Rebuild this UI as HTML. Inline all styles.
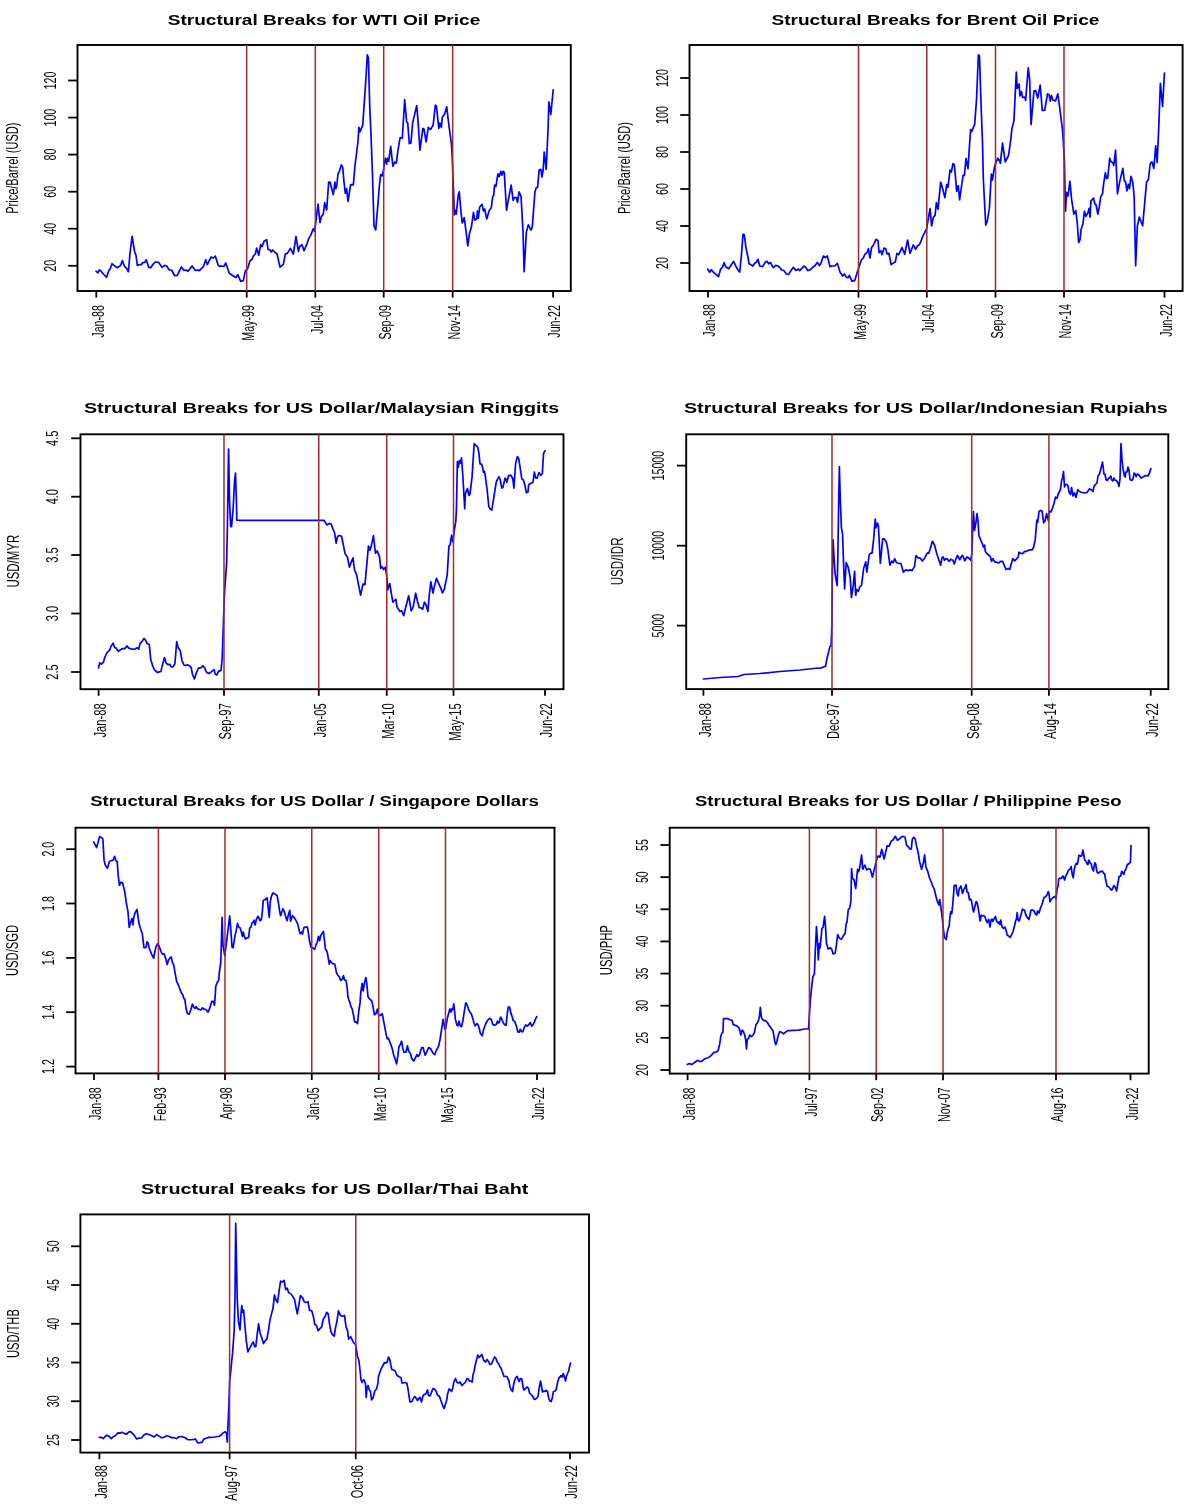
<!DOCTYPE html>
<html><head><meta charset="utf-8"><style>
html,body{margin:0;padding:0;background:#fff;}
svg{display:block;will-change:transform;}
text{font-family:"Liberation Sans",sans-serif;font-size:10.7px;fill:#000;}
text.t{font-weight:bold;font-size:14.1px;}
.fr{fill:none;stroke:#000;stroke-width:1.9;}
.k{stroke:#000;stroke-width:1.8;}
.r{stroke:#a52a2a;stroke-width:1.5;}
.d{fill:none;stroke:#0000ff;stroke-width:1.7;stroke-linejoin:round;stroke-linecap:round;}
</style></head><body>
<svg width="1200" height="1512" viewBox="0 0 1200 1512">
<text class="t" transform="translate(167.7,24.7) scale(1.3532,1)">Structural Breaks for WTI Oil Price</text>
<rect class="fr" x="77.5" y="45" width="493.3" height="246"/>
<polyline class="d" points="96,271.33 98,272.67 99.33,270 100.67,270.67 103.33,274 106.67,277.33 108.67,270.67 110,269.33 112,263.73 114,265.33 117.33,267.73 120.67,265.33 122.27,260.67 124.4,266 126.67,268.67 128.4,271.73 130,253.33 132.13,236.27 134.67,252 136,255.33 137.33,265.33 139.33,264.67 141.33,264.67 142.67,262.67 144.67,262.4 146.27,259.73 148.67,267.33 150.67,267.73 152.67,264.67 155.33,262 158.67,262.4 162,267.33 164.67,265.33 166.67,266 169.33,270 171.6,270 174.67,275.73 177.33,275.33 181.33,266.93 184,270.4 186,270 188,271.33 192,266 195.33,270.4 198,270 199.33,270.67 203.33,266.67 205.73,259.73 207.33,264.67 211.07,257.07 213.33,258 215.33,256 218,264.67 219.33,266.4 221.33,266 224,266.4 225.73,262.93 229.33,273.33 233.33,276 236,277.6 237.73,274.67 240.67,281.33 243.33,280.67 245.33,270.67 247.33,269.33 250,260.67 252,259.33 253.33,256 255.33,254 256.67,248 258.67,255.33 260.67,244.67 262,246.67 264,241.33 266.67,239.6 268,249.33 270,250 271.33,252 272.67,250 274.93,252.4 277.07,254 280,267.07 283.33,264.4 285.33,254 287.33,253.33 290.4,248.4 293.33,254 296,236.4 298.4,251.33 300,246 302,244.67 304,250.67 306.67,244.67 308.67,238.67 310.67,235.33 313.33,228.67 314.67,231.33 318,204 320,222.67 321.33,216.67 323.33,214 324.67,202.67 326.67,210 328.67,182 330,182 333.33,194.67 334.93,182 335.73,188.67 336.67,186.67 338,174 339.33,171.33 341.33,164.93 342.67,167.33 344,182 345.33,193.33 346.67,188.67 348,201.33 350.67,184.67 353.33,184.93 354.93,166 357.88,142.51 358.96,127.34 360.04,131.67 362.75,125.17 364.38,101.34 366,77.5 367.3,54.75 368.39,58 369.79,107.84 370.88,131.67 372.5,175.01 374,226 375.73,230 377.33,211.33 379.33,186 380.67,174.67 382,176 383.33,171.33 384.42,163.09 385.5,158.22 386.59,164.18 387.67,158.22 388.75,161.47 390.7,146.3 392.87,166.34 394.71,162.01 396.34,163.09 397.96,150.09 400.13,137.63 402.3,138.17 404.68,99.71 406.63,121.92 407.71,123.01 409.34,143.59 410.96,143.05 412.59,123.01 416.71,105.67 418.01,120.84 419.96,150.09 422.88,128.42 423.97,128.97 426.13,141.97 428.3,127.34 430.47,129.51 433.17,125.17 435.34,105.13 436.42,106.21 438.81,128.42 439.89,123.01 441.3,127.34 442.38,117.05 444.55,114.34 446.72,106.76 448.34,120.84 451.59,145.76 452.28,159.37 453.6,192.43 454.26,214.92 455.32,210.29 456.24,214.26 458.23,195.08 459.29,191.77 460.87,210.95 462.2,222.86 464.18,217.57 466.16,232.12 467.75,246.01 469.47,233.44 471.46,226.83 473.44,212.28 474.76,220.21 476.75,218.89 477.41,210.95 478.33,218.23 479.66,206.98 482.04,204.34 483.36,210.95 484.68,208.97 486.67,218.89 489.31,210.29 491.3,207.65 492.62,197.06 493.68,195.08 494.6,185.16 495.93,186.48 497.91,173.92 499.23,176.56 500.82,171.27 501.88,175.24 503.2,171.27 504.26,172.59 506.51,210.29 508.49,199.05 511.14,185.16 513.12,200.37 514.44,197.72 516.43,197.72 517.49,202.35 519.07,191.77 521.06,196.4 523.04,232.12 524.1,271.8 526.35,232.12 528.33,224.84 530.98,230.13 532.3,226.83 534.95,191.77 536.27,187.8 537.59,187.14 539.18,169.95 540.9,169.29 541.96,177.22 543.15,169.95 544.21,152.09 546.19,169.29 548.17,126.3 548.84,101.83 550.82,114.39 553.2,89.92"/>
<line class="r" x1="246.7" y1="45" x2="246.7" y2="291"/>
<line class="r" x1="315.3" y1="45" x2="315.3" y2="291"/>
<line class="r" x1="383.7" y1="45" x2="383.7" y2="291"/>
<line class="r" x1="452.7" y1="45" x2="452.7" y2="291"/>
<line class="k" x1="68.2" y1="265.8" x2="77.5" y2="265.8"/>
<text transform="translate(55.7,265.8) scale(1.58,1) rotate(-90)" text-anchor="middle">20</text>
<line class="k" x1="68.2" y1="228.7" x2="77.5" y2="228.7"/>
<text transform="translate(55.7,228.7) scale(1.58,1) rotate(-90)" text-anchor="middle">40</text>
<line class="k" x1="68.2" y1="191.7" x2="77.5" y2="191.7"/>
<text transform="translate(55.7,191.7) scale(1.58,1) rotate(-90)" text-anchor="middle">60</text>
<line class="k" x1="68.2" y1="154.6" x2="77.5" y2="154.6"/>
<text transform="translate(55.7,154.6) scale(1.58,1) rotate(-90)" text-anchor="middle">80</text>
<line class="k" x1="68.2" y1="117.6" x2="77.5" y2="117.6"/>
<text transform="translate(55.7,117.6) scale(1.58,1) rotate(-90)" text-anchor="middle">100</text>
<line class="k" x1="68.2" y1="80.5" x2="77.5" y2="80.5"/>
<text transform="translate(55.7,80.5) scale(1.58,1) rotate(-90)" text-anchor="middle">120</text>
<line class="k" x1="96.3" y1="291" x2="96.3" y2="297.6"/>
<text transform="translate(103.5,305) scale(1.58,1) rotate(-90)" text-anchor="end">Jan-88</text>
<line class="k" x1="246.7" y1="291" x2="246.7" y2="297.6"/>
<text transform="translate(253.9,305) scale(1.58,1) rotate(-90)" text-anchor="end">May-99</text>
<line class="k" x1="315.3" y1="291" x2="315.3" y2="297.6"/>
<text transform="translate(322.5,305) scale(1.58,1) rotate(-90)" text-anchor="end">Jul-04</text>
<line class="k" x1="383.7" y1="291" x2="383.7" y2="297.6"/>
<text transform="translate(390.9,305) scale(1.58,1) rotate(-90)" text-anchor="end">Sep-09</text>
<line class="k" x1="452.7" y1="291" x2="452.7" y2="297.6"/>
<text transform="translate(459.9,305) scale(1.58,1) rotate(-90)" text-anchor="end">Nov-14</text>
<line class="k" x1="553.1" y1="291" x2="553.1" y2="297.6"/>
<text transform="translate(560.3,305) scale(1.58,1) rotate(-90)" text-anchor="end">Jun-22</text>
<text transform="translate(18.1,168.2) scale(1.58,1.03) rotate(-90)" text-anchor="middle">Price/Barrel (USD)</text>
<text class="t" transform="translate(771.4,24.7) scale(1.3559,1)">Structural Breaks for Brent Oil Price</text>
<rect class="fr" x="689.5" y="45" width="493.1" height="246"/>
<polyline class="d" points="707.73,269.07 709.6,272.27 711.33,269.6 713.33,272.27 716,274.4 718.4,276.67 720.67,269.07 722.4,267.33 724,262.67 725.6,266.67 728.67,268.67 731.33,264.67 733.6,261.33 735.73,266 738,270 739.73,272 741.6,253.33 742.93,234.4 744.27,234.67 746,248 747.73,256 749.07,263.73 750.93,264.67 752.8,266 754.67,263.33 756.67,262 758,259.33 759.73,266 762.67,266.67 765.33,262 766.93,261.33 768.67,263.73 770.4,262.4 773.33,267.73 775.73,265.33 778,266 780,267.73 781.6,270 783.73,270.4 786.4,274 788.67,274.4 791.33,270 793.33,267.33 796,270.4 798.4,269.07 799.73,270.67 801.6,268.67 804,266 806,267.73 807.73,270.67 810.4,269.6 812.67,267.33 814.67,266 817.33,262.4 819.33,265.6 821.07,262.93 823.33,256 825.33,257.6 827.33,256 830,266.67 832,266 834.67,266 837.33,263.33 840,272 842.67,276 844.27,274 846.4,277.33 848.27,277.6 849.33,275.33 852,281.07 854.67,280.67 857.07,272.67 859.33,266 861.33,260 863.33,258 864.67,254.67 867.33,252 868.4,248.67 870,258 871.6,247.33 873.33,245.33 876,239.33 878,240.67 879.07,252.67 880.67,250.67 882,254.67 884,248 885.73,248.67 887.07,254 888.93,253.33 891.07,264.67 894,262.67 895.33,262 896.93,253.33 898.67,254.67 902,247.6 904.67,254.27 907.6,240 910,253.33 913.33,244.93 915.6,249.33 917.33,246 919.33,244.67 920.67,242 922.67,236.67 924.67,232.67 926.67,228.67 928.67,216.67 930,208.67 931.6,226 933.33,217.33 935.07,215.33 936.4,202.67 938,209.33 940.67,182 942.67,188.67 944.93,197.73 946.67,184.67 948,187.33 950,170 951.33,172 952.93,163.6 954.27,164.93 955.33,175.33 956.67,191.33 958.27,185.73 959.6,200 963.07,175.33 964.4,175.33 966,158.67 968,168.67 968.96,153.34 970.59,129.51 971.67,131.67 974.7,124.09 976.54,99.17 978.39,54.75 979.47,55.83 980.88,99.17 982.5,142.51 983.33,179.33 984.67,204.67 985.73,225.33 987.33,220.67 989.33,208.67 991.33,174 992.4,180 994.67,166 995.5,164.18 997.67,158.22 999.3,160.38 1000.38,163.09 1002.55,143.05 1005.25,161.79 1008.5,155.51 1010.67,140.34 1011.97,128.42 1013.92,120.84 1016.31,72.09 1017.17,88.34 1019.12,84 1019.88,95.92 1021.51,91.59 1022.59,97.55 1024.76,97 1025.62,100.47 1028.22,67.75 1029.63,79.67 1031.04,124.63 1033.97,91.05 1035.59,90.5 1037.76,98.09 1040.14,85.09 1042.31,110.55 1044.8,110.01 1047.51,93.75 1049.13,94.84 1050.22,101.12 1051.3,95.38 1052.93,100.25 1055.63,100.8 1057.8,93.75 1059.43,105.67 1062.68,131.67 1064.36,158.91 1065.53,211.27 1066.55,192.36 1068,196 1069.89,181.45 1071.64,199.64 1073.82,214.18 1075.71,210.55 1077.16,221.45 1078.62,242.55 1080.07,239.64 1081.09,229.45 1082.98,223.64 1084.44,211.27 1085.89,216.36 1087.93,212.73 1089.09,208.36 1090.11,217.09 1090.84,201.09 1093.45,198.18 1094.91,204 1096.07,204.73 1097.82,214.18 1099.27,206.91 1100.73,196.73 1102.47,193.82 1103.64,183.64 1105.38,172.73 1106.55,178.55 1107.71,178.11 1109.75,158.18 1110.91,161.82 1112.65,162.55 1113.82,165.45 1115.56,150.18 1117.45,193.82 1119.64,182.18 1122.84,168.36 1124.29,180.73 1125.45,181.45 1126.91,190.91 1128.36,184.36 1129.53,188.73 1130.98,176.36 1132.73,182.18 1134.18,196.73 1135.64,265.82 1137.38,225.82 1139.27,217.09 1142.62,225.82 1144.36,206.91 1146.55,182.18 1148.44,179.27 1150.18,164 1151.93,161.82 1153.82,168.36 1155.71,145.82 1157.16,162.55 1158.91,124 1160.36,83.27 1162.55,106.55 1164.44,73.09"/>
<line class="r" x1="858.5" y1="45" x2="858.5" y2="291"/>
<line class="r" x1="926.8" y1="45" x2="926.8" y2="291"/>
<line class="r" x1="995.5" y1="45" x2="995.5" y2="291"/>
<line class="r" x1="1064" y1="45" x2="1064" y2="291"/>
<line class="k" x1="680.2" y1="263" x2="689.5" y2="263"/>
<text transform="translate(667.7,263) scale(1.58,1) rotate(-90)" text-anchor="middle">20</text>
<line class="k" x1="680.2" y1="226" x2="689.5" y2="226"/>
<text transform="translate(667.7,226) scale(1.58,1) rotate(-90)" text-anchor="middle">40</text>
<line class="k" x1="680.2" y1="189" x2="689.5" y2="189"/>
<text transform="translate(667.7,189) scale(1.58,1) rotate(-90)" text-anchor="middle">60</text>
<line class="k" x1="680.2" y1="152" x2="689.5" y2="152"/>
<text transform="translate(667.7,152) scale(1.58,1) rotate(-90)" text-anchor="middle">80</text>
<line class="k" x1="680.2" y1="115" x2="689.5" y2="115"/>
<text transform="translate(667.7,115) scale(1.58,1) rotate(-90)" text-anchor="middle">100</text>
<line class="k" x1="680.2" y1="78" x2="689.5" y2="78"/>
<text transform="translate(667.7,78) scale(1.58,1) rotate(-90)" text-anchor="middle">120</text>
<line class="k" x1="708" y1="291" x2="708" y2="297.6"/>
<text transform="translate(715.2,304) scale(1.58,1) rotate(-90)" text-anchor="end">Jan-88</text>
<line class="k" x1="858.5" y1="291" x2="858.5" y2="297.6"/>
<text transform="translate(865.7,304) scale(1.58,1) rotate(-90)" text-anchor="end">May-99</text>
<line class="k" x1="926.8" y1="291" x2="926.8" y2="297.6"/>
<text transform="translate(934,304) scale(1.58,1) rotate(-90)" text-anchor="end">Jul-04</text>
<line class="k" x1="995.5" y1="291" x2="995.5" y2="297.6"/>
<text transform="translate(1002.7,304) scale(1.58,1) rotate(-90)" text-anchor="end">Sep-09</text>
<line class="k" x1="1064" y1="291" x2="1064" y2="297.6"/>
<text transform="translate(1071.2,304) scale(1.58,1) rotate(-90)" text-anchor="end">Nov-14</text>
<line class="k" x1="1164.5" y1="291" x2="1164.5" y2="297.6"/>
<text transform="translate(1171.7,304) scale(1.58,1) rotate(-90)" text-anchor="end">Jun-22</text>
<text transform="translate(630,168) scale(1.58,1.04) rotate(-90)" text-anchor="middle">Price/Barrel (USD)</text>
<text class="t" transform="translate(83.9,412.5) scale(1.4015,1)">Structural Breaks for US Dollar/Malaysian Ringgits</text>
<rect class="fr" x="80.5" y="434.3" width="483" height="254.9"/>
<polyline class="d" points="98.5,667.84 99.67,662.94 101.42,664.1 103.4,662.24 104.92,657.1 106.67,653.25 108.07,651.5 109.58,650.1 111.1,646.25 113.08,643.1 114.6,647.42 116,648 118.33,651.27 120.08,650.1 122.42,648.58 124.75,648.58 127.08,645.9 128.84,648.23 131.17,648.93 134.67,649.4 137,647.77 138.75,649.17 139.92,643.92 141.9,641.58 144,638.43 145.4,639.83 146.92,643.33 149.25,644.5 150.77,659.67 152.75,666.09 154.5,669.94 157.42,672.5 160.92,671.34 162.44,664.92 164.42,657.57 166.17,663.17 167.92,664.57 169.67,664.34 171.42,666.9 173.17,666.67 174.92,663.75 176.67,641.58 178.07,647.42 180.17,650.57 181.92,660.25 183.9,664.92 185.42,665.5 187.75,664.92 189.74,666.09 191.25,667.6 192.42,674.25 194.4,678.92 196.51,672.5 198.26,668.42 201.17,667.6 202.92,665.74 204.67,667.84 206.42,672.27 208.76,673.44 211.09,671.92 214.01,669.59 215.41,674.25 216.92,674.84 218.44,671.34 221.01,670.4 222.17,658.5 223.6,616.82 224.59,592.02 225.74,575.5 226.57,563.93 227.4,527.56 228.55,449.05 229.55,501.12 230.7,526.74 231.53,526.74 233.18,507.73 234.5,481.28 235.5,473.02 236.49,504.42 236.82,520.12 238.97,520.45 324.09,520.45 327,524.93 329.33,523.42 331.08,524 332.83,528.67 334.58,532.75 336.1,543.25 337.5,536.6 339.25,535.43 341.58,536.25 343.33,545 345.08,553.75 347.42,557.25 349.4,567.17 350.57,563.67 353.02,557.84 354.42,569.5 356.75,575.34 358.5,584.67 360.6,595.17 362.94,584.09 364.92,584.67 366.67,566 368.42,546.17 369.94,550.25 371.34,545.59 373.44,535.67 375.42,553.17 377.17,550.84 379.5,556.67 380.67,568.34 381.84,566.59 383.59,569.5 385.34,567.17 385.92,570.67 387.09,578.84 387.67,589.92 389.77,583.5 391.4,594 392.92,602.17 395.84,599.25 397,606.84 399.92,611.51 401.67,610.92 403.77,615.59 406.1,605.67 408.67,595.75 411.24,610.92 413.1,607.42 415.67,593.07 417.42,601 419.17,607.42 420.92,608 422.67,609.17 424.42,602.17 426.17,605.09 427.92,611.51 429.09,596.92 430.84,581.75 432.94,593.07 434.11,587.59 436.44,578.25 438.42,582.92 440.76,588.17 442.51,592.84 444.26,589.34 447.17,575.34 448.92,546.17 450.09,545 451.61,535.08 453.01,542.08 454.17,531.24 455.82,521.16 456.46,508.33 457.37,461.58 458.29,467.08 459.21,460.66 460.12,463.41 461.5,457.91 462.87,476.25 464.71,508.79 465.35,493.66 467.46,488.62 469.01,495.49 469.93,494.12 472.04,477.16 474.15,443.71 476.16,445.54 477.81,447.37 478.91,453.33 480.01,463.87 481.66,464.15 482.76,468 483.31,472.12 484.41,471.21 485.33,476.25 487.16,490 488.81,506.49 489.91,508.79 491.75,510.16 493.58,499.16 494.95,490 496.33,481.75 498.9,476.7 500,479 501.83,488.16 502.93,487.25 505.04,478.08 505.95,478.81 506.87,482.2 508.7,475.33 510.99,475.33 512.83,479 513.93,488.16 515.58,463.41 517.41,456.54 518.79,458.83 519.98,466.62 521.81,479 523.37,479.91 524.74,484.5 526.39,492.75 527.95,492.29 528.59,484.95 530.7,483.58 532.99,482.2 534.37,472.12 535.74,478.08 537.12,478.08 538.95,472.58 540.78,475.33 542.34,473.5 543.53,453.33 545.09,450.77"/>
<line class="r" x1="224" y1="434.3" x2="224" y2="689.2"/>
<line class="r" x1="318.75" y1="434.3" x2="318.75" y2="689.2"/>
<line class="r" x1="386.75" y1="434.3" x2="386.75" y2="689.2"/>
<line class="r" x1="453.5" y1="434.3" x2="453.5" y2="689.2"/>
<line class="k" x1="71.2" y1="672" x2="80.5" y2="672"/>
<text transform="translate(57.9,672) scale(1.58,1.03) rotate(-90)" text-anchor="middle">2.5</text>
<line class="k" x1="71.2" y1="613.5" x2="80.5" y2="613.5"/>
<text transform="translate(57.9,613.5) scale(1.58,1.03) rotate(-90)" text-anchor="middle">3.0</text>
<line class="k" x1="71.2" y1="555" x2="80.5" y2="555"/>
<text transform="translate(57.9,555) scale(1.58,1.03) rotate(-90)" text-anchor="middle">3.5</text>
<line class="k" x1="71.2" y1="496.7" x2="80.5" y2="496.7"/>
<text transform="translate(57.9,496.7) scale(1.58,1.03) rotate(-90)" text-anchor="middle">4.0</text>
<line class="k" x1="71.2" y1="438.3" x2="80.5" y2="438.3"/>
<text transform="translate(57.9,438.3) scale(1.58,1.03) rotate(-90)" text-anchor="middle">4.5</text>
<line class="k" x1="98.6" y1="689.2" x2="98.6" y2="695.8"/>
<text transform="translate(105.8,703.2) scale(1.58,1.05) rotate(-90)" text-anchor="end">Jan-88</text>
<line class="k" x1="224" y1="689.2" x2="224" y2="695.8"/>
<text transform="translate(231.2,703.2) scale(1.58,1.05) rotate(-90)" text-anchor="end">Sep-97</text>
<line class="k" x1="318.75" y1="689.2" x2="318.75" y2="695.8"/>
<text transform="translate(325.95,703.2) scale(1.58,1.05) rotate(-90)" text-anchor="end">Jan-05</text>
<line class="k" x1="386.75" y1="689.2" x2="386.75" y2="695.8"/>
<text transform="translate(393.95,703.2) scale(1.58,1.05) rotate(-90)" text-anchor="end">Mar-10</text>
<line class="k" x1="453.5" y1="689.2" x2="453.5" y2="695.8"/>
<text transform="translate(460.7,703.2) scale(1.58,1.05) rotate(-90)" text-anchor="end">May-15</text>
<line class="k" x1="545" y1="689.2" x2="545" y2="695.8"/>
<text transform="translate(552.2,703.2) scale(1.58,1.05) rotate(-90)" text-anchor="end">Jun-22</text>
<text transform="translate(18.7,561.2) scale(1.58,1.07) rotate(-90)" text-anchor="middle">USD/MYR</text>
<text class="t" transform="translate(683.9,412.5) scale(1.4010,1)">Structural Breaks for US Dollar/Indonesian Rupiahs</text>
<rect class="fr" x="686.2" y="434.3" width="482.1" height="254.8"/>
<polyline class="d" points="703.4,679 720,677.5 738,676.5 744,674.5 760,673.5 780,671.5 800,670 818,668 820,668.25 823.17,667.14 825.56,666.19 827.14,657.94 828.73,651.59 829.84,646.83 831.11,645.24 831.9,624.6 832.38,576.98 833.02,539.68 834.29,561.11 835.08,573.81 837.14,585.71 837.78,561.11 838.73,497.62 839.37,466.67 840.32,500.79 841.43,527.78 842.54,534.13 843.49,561.11 844.6,588.89 846.19,562.7 848.25,567.46 850.16,576.98 851.43,597.62 853.33,584.92 854.6,571.43 855.71,595.24 856.83,589.68 858.41,591.27 859.68,587.3 861.59,584.92 863.65,568.25 865.71,561.9 866.83,572.22 869.21,554.76 870.79,553.17 872.06,553.17 873.65,538.89 875.24,519.05 875.87,527.78 877.46,523.02 878.41,526.19 880.32,563.49 882.7,538.89 884.29,538.89 886.35,542.06 887.94,550 889.84,565.08 891.75,561.11 893.33,562.7 894.6,558.73 896.51,562.7 899.37,563.49 900.95,563.49 903.33,572.22 905.71,569.84 908.1,570.63 910.16,569.84 912.06,570.63 914.44,566.67 916.03,555.56 918.1,557.94 920,557.94 922.38,561.11 924.76,557.94 927.14,553.17 928.73,553.17 930.32,548.41 932.38,541.27 934.6,545.24 936.67,553.17 940.63,565.14 942.04,557.55 943.13,557.01 944.53,560.26 945.83,558.63 947.46,559.18 949.3,561.34 950.71,559.18 952.88,560.26 954.28,564.05 955.8,559.18 957.54,555.38 959.7,559.72 962.09,555.38 963.17,556.47 964.79,560.8 966.96,557.01 968.8,558.09 970.75,560.26 971.84,553.76 972.92,522.34 973.46,511.51 974.54,530.47 975.95,522.34 977.04,513.67 978.12,522.34 978.88,535.34 980.5,539.67 982.45,544.01 983.54,547.26 984.62,545.09 985.38,551.59 987,553.76 990.25,556.47 991.55,561.34 992.96,558.63 994.59,561.89 996.76,562.43 998.92,562.97 1000.55,561.34 1002.71,561.34 1004.34,565.68 1005.96,569.47 1008.13,568.39 1009.76,569.47 1011.38,563.51 1012.79,558.63 1014.63,560.8 1016.8,558.63 1018.21,557.01 1018.97,552.13 1020.59,553.22 1022.54,553.76 1024.38,551.59 1027.09,551.05 1029.04,549.97 1031.97,549.97 1033.59,547.26 1035.22,539.67 1036.3,526.67 1036.84,520.17 1037.71,522.34 1039.01,511.51 1040.63,510.42 1042.04,510.96 1043.67,522.88 1044.97,520.72 1046.59,513.67 1048.22,520.17 1049.5,511 1051,512 1052.5,508 1054,503.5 1055.5,497 1057,498.5 1058,494.5 1059.5,491.5 1060.5,489.5 1061.5,481 1062.5,478 1063.5,471.5 1064.5,487 1065.5,484.5 1067,484.5 1068,486 1069,492 1070.5,494.5 1071.5,487.5 1073,496 1074.5,493 1076,497.5 1077.8,489.5 1079.5,491.5 1082,492.5 1084.5,493 1087,492.5 1089.5,488.8 1091.5,490 1093,491.5 1094,486.5 1095.5,484.5 1097,483 1098,476 1099.5,474 1101,468 1102.5,462 1104,474 1105,474.5 1106,479.5 1107.2,480.5 1108.5,478.5 1110,477.5 1110.8,476 1111.8,480 1112.8,481 1114,478 1115.2,480.5 1116.5,480.5 1117.8,482.5 1119,486.5 1120,479 1120.5,460 1121,443.5 1122,460 1123.2,470 1124.5,476 1125.2,477 1125.8,472 1127,472 1128,467 1129,470 1130,479.5 1131.8,480.5 1133,479 1134.2,473 1135.5,474.5 1136.2,476.5 1137.5,474 1139,475 1141.2,478 1143,477 1145.5,475.5 1148,476 1149.5,473 1150.8,468.5"/>
<line class="r" x1="832" y1="434.3" x2="832" y2="689.1"/>
<line class="r" x1="971.7" y1="434.3" x2="971.7" y2="689.1"/>
<line class="r" x1="1048.9" y1="434.3" x2="1048.9" y2="689.1"/>
<line class="k" x1="676.9" y1="625.6" x2="686.2" y2="625.6"/>
<text transform="translate(664.4,625.6) scale(1.58,1) rotate(-90)" text-anchor="middle">5000</text>
<line class="k" x1="676.9" y1="545.7" x2="686.2" y2="545.7"/>
<text transform="translate(664.4,545.7) scale(1.58,1) rotate(-90)" text-anchor="middle">10000</text>
<line class="k" x1="676.9" y1="465.6" x2="686.2" y2="465.6"/>
<text transform="translate(664.4,465.6) scale(1.58,1) rotate(-90)" text-anchor="middle">15000</text>
<line class="k" x1="703.4" y1="689.1" x2="703.4" y2="695.7"/>
<text transform="translate(710.6,703.1) scale(1.58,1.04) rotate(-90)" text-anchor="end">Jan-88</text>
<line class="k" x1="832" y1="689.1" x2="832" y2="695.7"/>
<text transform="translate(839.2,703.1) scale(1.58,1.04) rotate(-90)" text-anchor="end">Dec-97</text>
<line class="k" x1="971.7" y1="689.1" x2="971.7" y2="695.7"/>
<text transform="translate(978.9,703.1) scale(1.58,1.04) rotate(-90)" text-anchor="end">Sep-08</text>
<line class="k" x1="1048.9" y1="689.1" x2="1048.9" y2="695.7"/>
<text transform="translate(1056.1,703.1) scale(1.58,1.04) rotate(-90)" text-anchor="end">Aug-14</text>
<line class="k" x1="1150.7" y1="689.1" x2="1150.7" y2="695.7"/>
<text transform="translate(1157.9,703.1) scale(1.58,1.04) rotate(-90)" text-anchor="end">Jun-22</text>
<text transform="translate(623.3,561.4) scale(1.58,1.09) rotate(-90)" text-anchor="middle">USD/IDR</text>
<text class="t" transform="translate(90.2,805.8) scale(1.3195,1)">Structural Breaks for US Dollar / Singapore Dollars</text>
<rect class="fr" x="75.5" y="827.7" width="479" height="245.7"/>
<polyline class="d" points="93.66,841.94 96.55,847.6 98.06,842.57 99.57,836.54 101.83,837.79 102.83,838.8 104.09,860.17 105.35,865.2 107.48,868.34 109.37,861.43 110.63,860.8 113.14,860.17 114.65,856.4 115.91,860.8 117.16,861.43 118.17,875.25 119.43,885.31 120.94,882.17 122.57,882.8 124.71,891.6 126.34,902.91 127.97,911.71 129.23,927.42 130.74,921.77 132,918.62 133,924.91 133.51,918.62 134.76,913.6 136.4,910.45 137.03,909.45 138.91,923.02 140.55,928.68 142.31,933.71 143.94,947.54 145.83,947.54 147.08,941.88 148.09,943.14 149.35,948.79 151.48,953.82 153.62,958.22 155.63,948.16 157.39,943.76 159.02,945.65 160.91,951.31 162.17,953.82 164.05,953.82 165.94,959.48 167.2,964.51 168.45,960.11 170.34,957.59 171.22,956.96 172.48,962.62 173.73,965.14 175.37,974.56 176.62,981.48 178.51,985.25 181.02,992.16 182.91,995.3 183.79,998.45 184.79,999.08 186.05,1008.5 187.31,1013.53 189.19,1014.16 190.83,1009.76 192.34,1004.1 194.22,1007.88 195,1008.39 196.3,1006.76 197.71,1008.93 200.96,1010.01 202.58,1007.84 204.21,1009.47 205.83,1009.47 208,1012.18 209.63,1008.39 211.79,1001.34 213.2,1001.34 214.5,1005.14 215.8,986.18 217.21,982.38 218.62,980.76 219.38,972.09 220.79,962.34 221.22,947.17 222.09,917.38 222.95,945.01 224.79,955.84 226.42,942.84 228.04,929.84 229.67,915.75 230.97,932 232.05,947.17 233.14,947.71 234.87,936.34 236.17,930.92 237.47,923.34 238.34,926.59 239.96,927.67 241.05,930.92 242.45,936.34 243.21,932 244.3,936.34 245.38,939.05 247,937.96 248.63,937.42 249.71,928.21 251.12,926.59 251.88,923.34 253.5,921.71 254.05,920.09 255.13,924.96 256.21,920.09 257.84,916.29 258.92,917.92 260.01,920.63 261.31,919.54 262.17,913.59 263.26,900.59 265.21,899.5 267.05,897.88 268.13,907.09 269.21,917.38 270.3,901.67 271.38,896.25 273.01,893 275.17,894.08 277.12,895.71 278.42,902.75 279.51,910.34 280.59,915.75 281.67,912.5 282.76,908.71 284.06,910.88 285.47,915.75 287.09,920.63 288.39,914.67 289.8,910.34 290.56,921.17 292.51,915.75 294.13,917.38 295.98,920.63 297.71,923.88 299.01,929.84 300.09,933.63 301.72,932 302.48,934.17 303.88,927.67 305.51,927.13 307.46,927.13 308.54,934.17 309.63,941.76 310.93,947.17 312.55,947.71 314.72,949.34 316.13,944.46 317.21,942.3 318.51,936.34 319.59,940.67 320.89,935.25 323.43,931.5 324.25,938.5 325.42,949 327.17,951.92 328.33,958.34 329.27,964.17 330.08,960.67 332.42,963.59 334.75,964.17 336.5,972.92 337.9,975.25 339.42,977 340.59,980.5 342.1,979.34 343.5,975.6 344.44,979.92 346.07,980.5 347.24,988.67 347.94,996.84 348.75,999.75 349.92,1002.67 350.74,1006.17 352.25,1009.09 353.77,1016.67 354.59,1021.92 356.34,1021.92 357.5,1023.67 358.67,1012.01 360.07,1002.67 360.77,992.17 362.17,983.42 363.1,991 364.74,981.67 365.9,977.59 366.84,984 368,996.84 369.75,999.17 371.74,1000.92 372.9,1006.17 374.42,1014.92 375.94,1013.76 377.34,1009.09 378.74,1015.51 380.25,1015.51 382.24,1013.76 384.1,1023.67 386.09,1034.17 387.25,1038.84 388.42,1038.26 390.17,1042.92 391.57,1046.42 392.74,1050.51 393.67,1055.17 395.07,1058.67 396.59,1063.92 398.1,1054.01 398.92,1047.01 400.44,1044.09 401.6,1041.17 403,1049.34 403.94,1052.26 405.92,1052.26 407.44,1045.84 408.61,1051.09 410.59,1054.01 411.76,1058.67 413.74,1061.01 415.26,1058.09 417.01,1054.59 418.17,1056.34 419.34,1055.17 421.67,1047.59 423.07,1047.59 425.17,1055.17 426.92,1051.67 428.67,1047.59 430.77,1048.76 432.76,1052.84 434.74,1054.59 436.26,1050.51 438.59,1046.42 440.04,1039.5 441.42,1030.33 443.07,1019.33 444.17,1024.83 444.9,1029.41 445.54,1028.5 447.37,1018.41 448.75,1012.91 449.85,1008.79 451.04,1012 451.96,1008.79 452.87,1009.71 453.79,1003.75 454.43,1009.71 455.35,1019.33 457,1025.29 457.91,1025.75 459.01,1021.16 460.21,1025.75 461.58,1026.66 462.96,1020.25 464.33,1011.08 465.71,1002.83 467.08,1004.67 468.73,1009.71 469.83,1012 471.48,1014.29 472.76,1018.41 473.96,1023 475.15,1025.75 476.98,1023.46 478.26,1025.29 479.45,1029.41 480.37,1033.54 482.2,1035.83 483.4,1030.33 484.95,1025.75 486.33,1022.54 487.7,1020.25 489.54,1018.41 491.37,1019.79 492.75,1024.37 494.58,1025.29 496.23,1024.37 497.51,1021.16 498.7,1023 499.34,1022.08 500.54,1017.04 501.45,1018.41 503.01,1022.54 504.66,1024.83 506.04,1025.29 507.41,1012.91 508.33,1006.96 509.7,1007.42 510.89,1013.37 512.18,1016.58 513.09,1020.25 514.74,1021.62 515.84,1024.37 517.03,1028.5 517.95,1032.16 519.14,1032.16 520.24,1029.41 521.62,1031.7 522.81,1031.7 524.37,1027.12 525.74,1024.83 527.39,1026.21 528.95,1024.37 530.33,1022.54 531.7,1026.21 532.89,1024.83 533.99,1023 535.37,1019.33 536.74,1016.58"/>
<line class="r" x1="158.4" y1="827.7" x2="158.4" y2="1073.4"/>
<line class="r" x1="225" y1="827.7" x2="225" y2="1073.4"/>
<line class="r" x1="311.75" y1="827.7" x2="311.75" y2="1073.4"/>
<line class="r" x1="378.75" y1="827.7" x2="378.75" y2="1073.4"/>
<line class="r" x1="445.5" y1="827.7" x2="445.5" y2="1073.4"/>
<line class="k" x1="66.2" y1="1066.6" x2="75.5" y2="1066.6"/>
<text transform="translate(53.7,1066.6) scale(1.58,1) rotate(-90)" text-anchor="middle">1.2</text>
<line class="k" x1="66.2" y1="1012.2" x2="75.5" y2="1012.2"/>
<text transform="translate(53.7,1012.2) scale(1.58,1) rotate(-90)" text-anchor="middle">1.4</text>
<line class="k" x1="66.2" y1="957.9" x2="75.5" y2="957.9"/>
<text transform="translate(53.7,957.9) scale(1.58,1) rotate(-90)" text-anchor="middle">1.6</text>
<line class="k" x1="66.2" y1="903.5" x2="75.5" y2="903.5"/>
<text transform="translate(53.7,903.5) scale(1.58,1) rotate(-90)" text-anchor="middle">1.8</text>
<line class="k" x1="66.2" y1="849.2" x2="75.5" y2="849.2"/>
<text transform="translate(53.7,849.2) scale(1.58,1) rotate(-90)" text-anchor="middle">2.0</text>
<line class="k" x1="94" y1="1073.4" x2="94" y2="1080"/>
<text transform="translate(101.2,1087.4) scale(1.58,1) rotate(-90)" text-anchor="end">Jan-88</text>
<line class="k" x1="158.4" y1="1073.4" x2="158.4" y2="1080"/>
<text transform="translate(165.6,1087.4) scale(1.58,1) rotate(-90)" text-anchor="end">Feb-93</text>
<line class="k" x1="225" y1="1073.4" x2="225" y2="1080"/>
<text transform="translate(232.2,1087.4) scale(1.58,1) rotate(-90)" text-anchor="end">Apr-98</text>
<line class="k" x1="311.75" y1="1073.4" x2="311.75" y2="1080"/>
<text transform="translate(318.95,1087.4) scale(1.58,1) rotate(-90)" text-anchor="end">Jan-05</text>
<line class="k" x1="378.75" y1="1073.4" x2="378.75" y2="1080"/>
<text transform="translate(385.95,1087.4) scale(1.58,1) rotate(-90)" text-anchor="end">Mar-10</text>
<line class="k" x1="445.5" y1="1073.4" x2="445.5" y2="1080"/>
<text transform="translate(452.7,1087.4) scale(1.58,1) rotate(-90)" text-anchor="end">May-15</text>
<line class="k" x1="537" y1="1073.4" x2="537" y2="1080"/>
<text transform="translate(544.2,1087.4) scale(1.58,1) rotate(-90)" text-anchor="end">Jun-22</text>
<text transform="translate(17.5,950.5) scale(1.58,1.05) rotate(-90)" text-anchor="middle">USD/SGD</text>
<text class="t" transform="translate(695,806) scale(1.3160,1)">Structural Breaks for US Dollar / Philippine Peso</text>
<rect class="fr" x="669.7" y="827.7" width="479" height="245.9"/>
<polyline class="d" points="687.38,1064.54 689.33,1063.46 691.5,1064.54 693.13,1063.67 695.29,1062.05 697.46,1060.42 699.63,1061.29 701.79,1061.29 703.96,1059.34 706.13,1058.26 708.29,1057.71 711,1055.55 713.71,1052.62 716.42,1051.97 718.04,1050.67 719.67,1044.17 720.75,1036.59 721.84,1033.34 722.92,1032.25 723.46,1018.71 727.8,1018.71 729.96,1019.79 732.13,1020.34 733.21,1024.67 735.38,1025.21 737,1026.29 738.63,1027.38 739.71,1030.09 740.8,1034.96 742.2,1030.09 743.5,1031.71 744.8,1035.5 745.67,1039.84 746.54,1049.05 747.3,1039.3 748.38,1038.75 749.79,1034.96 751.09,1036.59 752.71,1035.5 754.34,1032.8 755.96,1024.67 757.59,1022.5 758.67,1019.79 759.54,1016 760.3,1007.33 761.38,1017.09 762.14,1018.71 763.55,1020.34 765.72,1020.88 767.34,1022.5 768.97,1025.21 770.59,1027.38 771.67,1029 772.97,1030.63 773.84,1035.5 774.92,1042 775.79,1044.71 776.87,1041.46 778.17,1035.5 779.8,1031.71 781.42,1032.25 783.59,1033.88 785.22,1032.25 787.38,1030.95 789.01,1030.63 793.34,1030.3 798.76,1030.09 804.18,1029 808.51,1029 809.59,1011.67 810.44,999.16 811.65,987.08 812.85,976.81 814.42,973.79 815.27,950.83 816.48,926.67 817.32,938.75 818.29,959.89 819.26,943.58 820.1,947.81 821.92,928.48 823.12,927.27 824.57,916.39 825.54,926.67 826.51,943.58 828.2,949.02 830.37,947.81 831.82,949.62 833.03,953.85 835.21,953.25 836.42,944.79 837.62,934.52 839.44,938.14 841.25,939.35 843.06,936.33 845.12,933.31 846.08,924.25 847.05,921.83 848.26,909.75 849.71,907.94 850.92,901.29 851.52,868.67 852.37,878.33 853.94,879.54 855.75,888.6 857.56,869.27 858.77,871.69 859.98,866.25 861.55,854.77 862.76,869.27 864.81,865.04 866.62,869.87 868.44,868.67 870.25,869.27 872.42,877.12 873.87,871.08 875.08,866.25 876.29,860.81 878.1,855.98 879.92,857.19 881.73,849.33 884.14,859 885.35,853.56 887.17,845.71 888.98,846.31 891.39,840.87 893.21,839.67 895.38,836.28 897.44,840.27 899.25,839.06 900.46,837.85 902.27,836.28 905.05,837.25 906.5,845.1 908.31,846.92 910.12,849.33 911.33,848.73 912.3,839.06 913.75,837.25 915.2,839.06 916.77,846.92 917.98,851.75 919.55,861.42 921.6,869.27 923.41,862.62 924.62,854.77 925.83,866.85 927.64,871.08 929.46,877.73 931.27,881.96 932.48,885.58 934.29,889.21 936.1,897.06 937.31,901.29 938.88,904.92 939.73,899.48 941.54,912.17 943.5,930 944.5,937.5 946.2,939.5 947.2,933 948,929 949.2,926 949.8,918 950.8,911.5 951.8,913.5 952.8,904 954.2,885.5 956,885 957,893 958.2,896 959.2,889 961,886 962.5,893.5 964,889 965,888 966,884.5 967,892 968.2,892.5 969.5,900 970.5,899 971.5,901 972.5,907 973.5,912 975,906 976.2,901.5 977.2,903 978.5,910 979.5,917 980.2,921 981.2,915 982,916 983.8,915.5 985,917 986.2,920.5 987.2,922.5 988.8,919.5 990,927 991,920 992,919 992.8,921.5 994,919 995.5,916.5 996.5,921 998,923 999.2,922 1000,924.5 1000.8,920 1002,927 1003.5,928.5 1004.8,927 1006,930 1007.2,935 1008.5,936 1010,937.5 1011.5,935 1013,931.5 1014.5,926 1015.5,921 1016.5,919 1017.2,912.5 1018,920 1019.2,921 1020.8,915.5 1022.5,909 1023.5,910 1024.5,910 1025.5,914 1027,917 1028.8,919.5 1030,915 1031,910 1032.8,910 1034,911 1035.5,914 1036.8,915 1037.5,911 1039,913 1040.5,908 1041.8,905 1043,901 1044,897.5 1045.8,896.5 1047.2,894.5 1048.2,891.5 1049,894 1050,902 1051,899.5 1053,897.5 1054.8,896.5 1056,898.77 1057.13,889.01 1058.1,886.01 1058.63,878.89 1059.75,878.14 1061.25,878.51 1062.9,875.89 1063.88,878.14 1064.63,880.01 1065.75,875.89 1067.25,873.26 1068.38,870.26 1069.88,869.13 1071.16,866.51 1072.13,874.01 1073.26,877.76 1074.01,871.01 1075.13,865.38 1076.26,863.51 1077.38,864.26 1078.36,859.01 1078.88,855.26 1080.01,855.63 1080.91,856.38 1081.88,855.63 1082.86,850 1083.76,854.5 1084.66,860.13 1085.86,860.88 1086.91,863.51 1087.88,864.63 1088.86,860.13 1090.14,863.13 1091.26,863.88 1092.01,868.01 1093.36,871.01 1094.11,866.51 1094.79,862.76 1095.76,864.26 1096.89,871.76 1098.01,873.26 1099.51,872.13 1101.01,871.38 1102.51,871.01 1103.64,873.26 1104.61,873.63 1105.51,879.26 1107.16,886.39 1108.51,886.76 1110.02,888.26 1111.52,890.14 1112.64,888.64 1113.77,885.64 1115.27,887.14 1116.62,890.89 1117.89,883.01 1119.17,876.26 1120.52,876.26 1121.64,871.38 1122.77,872.88 1123.89,874.38 1124.64,871.01 1125.77,869.51 1127.27,864.63 1128.77,863.88 1130.42,862.38 1131.02,845.5"/>
<line class="r" x1="809.4" y1="827.7" x2="809.4" y2="1073.6"/>
<line class="r" x1="876.2" y1="827.7" x2="876.2" y2="1073.6"/>
<line class="r" x1="943" y1="827.7" x2="943" y2="1073.6"/>
<line class="r" x1="1056" y1="827.7" x2="1056" y2="1073.6"/>
<line class="k" x1="660.4" y1="1070" x2="669.7" y2="1070"/>
<text transform="translate(647.9,1070) scale(1.58,1) rotate(-90)" text-anchor="middle">20</text>
<line class="k" x1="660.4" y1="1037.86" x2="669.7" y2="1037.86"/>
<text transform="translate(647.9,1037.86) scale(1.58,1) rotate(-90)" text-anchor="middle">25</text>
<line class="k" x1="660.4" y1="1005.71" x2="669.7" y2="1005.71"/>
<text transform="translate(647.9,1005.71) scale(1.58,1) rotate(-90)" text-anchor="middle">30</text>
<line class="k" x1="660.4" y1="973.57" x2="669.7" y2="973.57"/>
<text transform="translate(647.9,973.57) scale(1.58,1) rotate(-90)" text-anchor="middle">35</text>
<line class="k" x1="660.4" y1="941.43" x2="669.7" y2="941.43"/>
<text transform="translate(647.9,941.43) scale(1.58,1) rotate(-90)" text-anchor="middle">40</text>
<line class="k" x1="660.4" y1="909.28" x2="669.7" y2="909.28"/>
<text transform="translate(647.9,909.28) scale(1.58,1) rotate(-90)" text-anchor="middle">45</text>
<line class="k" x1="660.4" y1="877.14" x2="669.7" y2="877.14"/>
<text transform="translate(647.9,877.14) scale(1.58,1) rotate(-90)" text-anchor="middle">50</text>
<line class="k" x1="660.4" y1="845" x2="669.7" y2="845"/>
<text transform="translate(647.9,845) scale(1.58,1) rotate(-90)" text-anchor="middle">55</text>
<line class="k" x1="687.6" y1="1073.6" x2="687.6" y2="1080.2"/>
<text transform="translate(694.8,1087.6) scale(1.58,1) rotate(-90)" text-anchor="end">Jan-88</text>
<line class="k" x1="809.4" y1="1073.6" x2="809.4" y2="1080.2"/>
<text transform="translate(816.6,1087.6) scale(1.58,1) rotate(-90)" text-anchor="end">Jul-97</text>
<line class="k" x1="876.2" y1="1073.6" x2="876.2" y2="1080.2"/>
<text transform="translate(883.4,1087.6) scale(1.58,1) rotate(-90)" text-anchor="end">Sep-02</text>
<line class="k" x1="943" y1="1073.6" x2="943" y2="1080.2"/>
<text transform="translate(950.2,1087.6) scale(1.58,1) rotate(-90)" text-anchor="end">Nov-07</text>
<line class="k" x1="1056" y1="1073.6" x2="1056" y2="1080.2"/>
<text transform="translate(1063.2,1087.6) scale(1.58,1) rotate(-90)" text-anchor="end">Aug-16</text>
<line class="k" x1="1130.5" y1="1073.6" x2="1130.5" y2="1080.2"/>
<text transform="translate(1137.7,1087.6) scale(1.58,1) rotate(-90)" text-anchor="end">Jun-22</text>
<text transform="translate(611.7,950.2) scale(1.58,1.05) rotate(-90)" text-anchor="middle">USD/PHP</text>
<text class="t" transform="translate(141,1194.3) scale(1.4050,1)">Structural Breaks for US Dollar/Thai Baht</text>
<rect class="fr" x="80.4" y="1214.4" width="508.6" height="238.2"/>
<polyline class="d" points="99.23,1437.35 101.04,1437.35 103.22,1438.56 104.91,1436.75 106.84,1435.3 108.9,1436.15 111.31,1438.56 113.12,1436.75 115.78,1435.3 117.96,1432.88 120.37,1433.12 121.82,1432.16 124,1433.37 126.66,1434.09 128.83,1431.92 130.65,1431.67 133.42,1434.33 136.69,1438.92 138.74,1438.2 141.52,1437.96 143.94,1434.94 146.35,1433.73 148.77,1434.57 151.19,1435.54 154.21,1436.99 156.62,1434.57 159.04,1436.15 161.46,1437.72 163.87,1437.35 166.89,1435.78 169.31,1436.51 171.73,1437.72 174.75,1437.96 176.56,1438.56 178.98,1436.75 182,1436.51 185.02,1437.72 188.04,1439.77 191.67,1439.77 194.08,1439.41 195.29,1438.92 197.71,1442.79 200.12,1442.55 201.94,1442.19 203.75,1439.17 205.56,1438.56 208.58,1437.35 211.6,1437.35 214.62,1436.99 217.04,1436.51 218.85,1436.51 221.27,1434.94 223.08,1432.88 225.26,1431.67 226.46,1433.12 227.31,1442.19 228.85,1405.23 229.61,1382.4 231.13,1367.18 232.65,1351.97 234.17,1330.66 234.94,1300.22 235.7,1223.37 236.46,1260.66 237.22,1298.7 238.44,1321.53 239.96,1329.9 241.02,1313.92 241.78,1305.55 242.54,1312.4 243.61,1310.11 244.83,1324.57 246.35,1341.31 247.87,1351.97 249.39,1348.92 251.68,1344.36 253.2,1342.07 254.72,1346.64 255.78,1346.64 257.31,1333.7 258.52,1323.81 260.05,1332.94 261.87,1338.27 263.39,1343.6 265.37,1340.55 266.89,1339.03 268.42,1330.66 269.94,1320.01 271.92,1312.4 272.98,1308.59 274.5,1294.9 276.03,1300.22 277.55,1302.51 279.07,1291.09 280.59,1281.2 282.57,1281.96 284.09,1280.44 285.61,1289.57 287.13,1288.05 288.66,1292.61 291.24,1294.14 293.22,1297.18 294.74,1300.22 295.81,1306.31 297.33,1313.92 298.85,1304.79 300.37,1295.66 302.66,1297.94 304.18,1301.74 306.01,1302.51 307.98,1301.74 309.51,1310.11 311.79,1310.88 313.31,1316.2 314.83,1324.57 316.35,1325.33 318.18,1330.66 320.16,1328.38 321.68,1326.86 323.2,1319.25 325.18,1316.2 326.7,1312.4 328.22,1313.92 329.29,1322.29 330.81,1331.42 332.33,1334.46 334.31,1335.99 335.38,1328.38 336.9,1321.53 338.42,1310.88 340.4,1315.44 342.53,1316.2 344.51,1315.44 346.03,1326.86 347.55,1330.66 348.62,1339.03 350.6,1336.75 352.57,1340.55 353.5,1342.5 355.5,1344.5 356.5,1350 357.5,1356.5 359,1361 360,1370 361,1380 362,1382.5 363.5,1379.8 364.2,1380 365.5,1384 366.2,1397.5 367,1388 368,1385.5 369.2,1389.5 370.5,1391.5 371.5,1400 373,1398 374.8,1391 376.5,1389 377.8,1384 378.5,1376.5 379.8,1372.5 381.5,1368 383,1365.5 384.5,1362.5 386,1363 387.2,1362 388.5,1357 389.8,1359.5 390.8,1365 391.8,1369.5 393.5,1370 395.2,1371 396.8,1375 398,1376 399.5,1377 401,1377.5 402,1383 403.5,1383 404.8,1382.5 406.8,1383 408,1389 409,1396 410,1402 412,1401.5 413.5,1398 415,1396.5 416.2,1398.5 417.5,1400.5 419,1398 420,1397.5 421.5,1402 422.8,1396.5 424,1394.5 425.8,1394 427.5,1390 428.5,1395.5 430,1396 431.8,1391.5 433,1388.5 434.5,1389 436,1391 437.5,1395 439.5,1396.5 440.5,1399.5 442,1403.5 443,1406.5 444.2,1408.5 445.5,1404 446.5,1401 447.5,1394.5 449,1389 450.5,1390 451.5,1391.5 452.8,1388 453.8,1382 455.5,1378.5 457,1382.5 458.5,1383 460,1382 462,1385.5 464,1383.5 465.5,1382 467,1378.5 468.2,1379 469.5,1381 471,1381 472.2,1382 473,1374.5 474,1372 475,1366 476.5,1360 477.8,1355 479.2,1357.5 480.5,1356 481.8,1354.5 482.8,1357.5 483.8,1360.5 485.5,1362 487,1359.5 488.5,1361.5 490,1364.5 491.5,1364 492.8,1361 494.5,1357 496,1358.5 497.2,1362 498.5,1363.5 499.8,1366.5 501,1368 502,1371 503,1373.5 504,1376.5 505.5,1376.5 507,1376.5 508,1379 509,1381 509.8,1386.5 511,1389.5 512.5,1391.5 513.5,1385 514.8,1380 516,1377.5 517.2,1376.5 519,1381.5 520.5,1378.5 521.8,1379 523.2,1388 524.2,1390 525.5,1388.5 527.2,1387 528.5,1388.5 529.5,1393 531,1394.5 532.5,1396 534,1399 535.2,1399.5 536.8,1398 538,1396.5 539,1389 540.5,1381 541.5,1386 542.5,1392 543.8,1391 545,1391.5 546.2,1390.5 547.5,1391.5 548.5,1397 549.8,1401 551.2,1401.5 552.2,1398 553.5,1391.5 555,1391 556.2,1389.5 557.5,1383 558.8,1378 560,1377 561,1375.5 562.2,1377 563.2,1373.5 564.5,1377 565.5,1381 566.5,1376 568.5,1371.5 569.5,1367 570.5,1363"/>
<line class="r" x1="229.6" y1="1214.4" x2="229.6" y2="1452.6"/>
<line class="r" x1="355.75" y1="1214.4" x2="355.75" y2="1452.6"/>
<line class="k" x1="71.1" y1="1440" x2="80.4" y2="1440"/>
<text transform="translate(58.6,1440) scale(1.58,1) rotate(-90)" text-anchor="middle">25</text>
<line class="k" x1="71.1" y1="1401.26" x2="80.4" y2="1401.26"/>
<text transform="translate(58.6,1401.26) scale(1.58,1) rotate(-90)" text-anchor="middle">30</text>
<line class="k" x1="71.1" y1="1362.52" x2="80.4" y2="1362.52"/>
<text transform="translate(58.6,1362.52) scale(1.58,1) rotate(-90)" text-anchor="middle">35</text>
<line class="k" x1="71.1" y1="1323.78" x2="80.4" y2="1323.78"/>
<text transform="translate(58.6,1323.78) scale(1.58,1) rotate(-90)" text-anchor="middle">40</text>
<line class="k" x1="71.1" y1="1285.04" x2="80.4" y2="1285.04"/>
<text transform="translate(58.6,1285.04) scale(1.58,1) rotate(-90)" text-anchor="middle">45</text>
<line class="k" x1="71.1" y1="1246.3" x2="80.4" y2="1246.3"/>
<text transform="translate(58.6,1246.3) scale(1.58,1) rotate(-90)" text-anchor="middle">50</text>
<line class="k" x1="99.4" y1="1452.6" x2="99.4" y2="1459.2"/>
<text transform="translate(106.6,1465.1) scale(1.58,1.03) rotate(-90)" text-anchor="end">Jan-88</text>
<line class="k" x1="229.6" y1="1452.6" x2="229.6" y2="1459.2"/>
<text transform="translate(236.8,1465.1) scale(1.58,1.03) rotate(-90)" text-anchor="end">Aug-97</text>
<line class="k" x1="355.75" y1="1452.6" x2="355.75" y2="1459.2"/>
<text transform="translate(362.95,1465.1) scale(1.58,1.03) rotate(-90)" text-anchor="end">Oct-06</text>
<line class="k" x1="570" y1="1452.6" x2="570" y2="1459.2"/>
<text transform="translate(577.2,1465.1) scale(1.58,1.03) rotate(-90)" text-anchor="end">Jun-22</text>
<text transform="translate(18.7,1333.6) scale(1.58,1.04) rotate(-90)" text-anchor="middle">USD/THB</text>
</svg>
</body></html>
